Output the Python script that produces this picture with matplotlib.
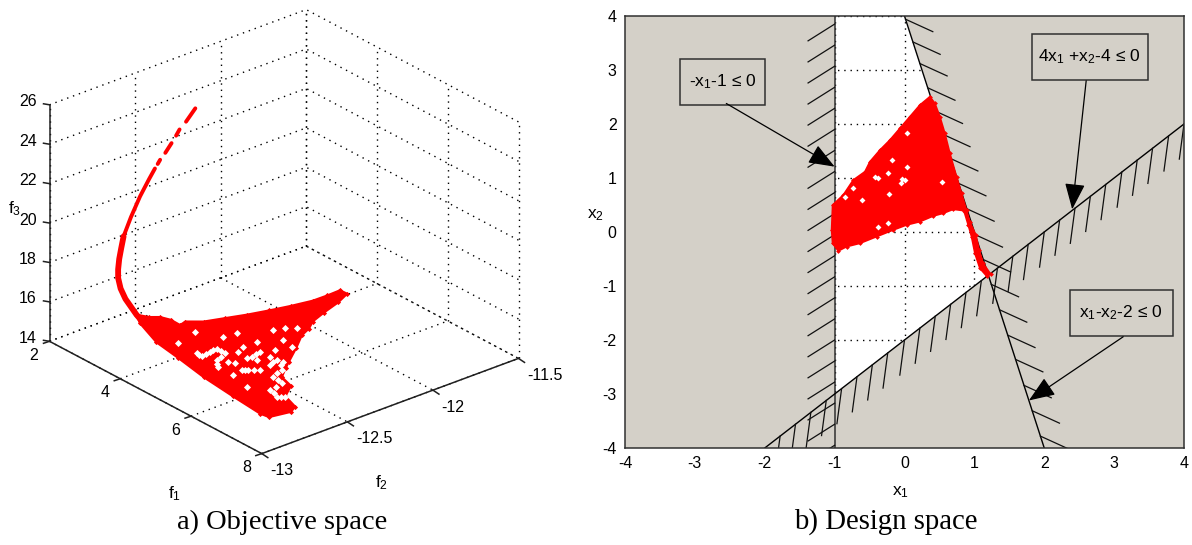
import numpy as np
import matplotlib.pyplot as plt

plt.rcParams['font.family'] = ['Liberation Sans', 'DejaVu Sans']
plt.rcParams['mathtext.default'] = 'regular'
plt.rcParams['axes.unicode_minus'] = False

#Objective space data
curve_f1 = [3.50, 3.44, np.nan, 3.33, 3.28, np.nan, 3.22, 3.15, np.nan, 3.09, 3.07, np.nan, 3.05, 3.016, 2.837, 2.763, 2.662]
curve_f2 = [-12.458, -12.50, np.nan, -12.515, -12.525, np.nan, -12.539, -12.561, np.nan, -12.579, -12.589, np.nan, -12.601, -12.628, -12.644, -12.682, -12.704]
curve_f3 = [25.5, 24.9, np.nan, 24.45, 24.12, np.nan, 23.73, 23.24, np.nan, 22.89, 22.69, np.nan, 22.48, 22.0, 21.0, 20.0, 19.0]
tail_f1 = [2.662, 2.705, 2.703, 2.769, 2.794, 2.936, 3.102, 3.411, 3.706]
tail_f2 = [-12.704, -12.727, -12.738, -12.758, -12.763, -12.778, -12.784, -12.784, -12.750]
tail_f3 = [19.0, 18.5, 18.0, 17.6, 17.2, 16.85, 16.5, 16.0, 15.2]

cloud_f1 = [2.915, 3.140, 3.267, 3.481, 3.751, 3.705, 3.917, 4.062, 4.207, 4.330, 4.442, 4.533, 4.538, 4.523,
            4.717, 4.884, 5.042, 5.188, 5.364, 5.497, 5.816, 6.168, 6.344, 6.574, 6.953, 7.217, 7.659, 7.772,
            7.681, 7.466, 6.603, 5.664, 4.767, 4.021, 3.230]
cloud_f2 = [-12.682, -12.654, -12.616, -12.597, -12.599, -12.558, -12.496, -12.398, -12.301, -12.199, -12.094,
            -11.986, -11.902, -11.824, -11.822, -11.909, -12.027, -12.121, -12.179, -12.249, -12.346, -12.462,
            -12.519, -12.588, -12.613, -12.700, -12.734, -12.783, -12.892, -12.900, -12.881, -12.857, -12.820,
            -12.793, -12.726]
cloud_f3 = 15.2
gap_f1 = [4.835, 4.977, 4.938, 4.932, 5.165, 5.277, 5.527, 5.466, 5.596, 5.268, 5.169, 5.574, 5.580, 5.520,
          5.168, 5.743, 5.883, 5.960, 6.096, 6.056, 5.976, 6.106, 5.794, 5.643, 5.426, 5.732, 5.215, 5.079,
          4.995, 4.673, 4.622, 4.307, 4.135, 6.349, 6.461, 6.767, 6.841, 7.128, 7.225, 6.464, 5.942,
          4.906, 4.958, 4.935, 5.05, 5.22, 5.40, 5.548, 5.92, 6.03, 6.016, 6.20, 6.40, 6.61, 6.80, 6.98, 7.18]
gap_f2 = [-12.726, -12.726, -12.670, -12.629, -12.629, -12.701, -12.743, -12.672, -12.660, -12.572, -12.523,
          -12.587, -12.559, -12.498, -12.444, -12.563, -12.680, -12.657, -12.617, -12.550, -12.495, -12.483,
          -12.496, -12.436, -12.342, -12.357, -12.220, -12.260, -12.311, -12.459, -12.526, -12.724, -12.591,
          -12.543, -12.614, -12.629, -12.713, -12.733, -12.704, -12.771, -12.741,
          -12.726, -12.698, -12.650, -12.629, -12.665, -12.722, -12.528, -12.668, -12.637, -12.522, -12.515,
          -12.58, -12.62, -12.67, -12.72, -12.72]

f1_ticks = [2, 4, 6, 8]
f2_ticks = [-13, -12.5, -12, -11.5]
f2_labels = ['-13', '-12.5', '-12', '-11.5']
f3_ticks = [14, 16, 18, 20, 22, 24, 26]

#Design space data
front_x1 = [0.3635, 0.4350, 0.5065, 0.5781, 0.6496, 0.7450, 0.8165, 0.8881, 0.9358, 1.0216, 1.0693, 1.1265, 1.2314,
            1.1742, 1.0788, 1.0073, 0.9596, 0.9119, 0.8499, 0.6973, 0.5542, 0.4111, 0.2204, 0.0296, -0.1611, -0.3996,
            -0.6380, -0.8288, -0.9480, -1.029, -1.0434, -1.029, -0.8765, -0.7334, -0.5665, -0.4950, -0.3519, -0.2088,
            -0.0658, 0.0773, 0.2204]
front_x2 = [2.506, 2.383, 2.136, 1.827, 1.457, 1.025, 0.716, 0.407, 0.191, -0.056, -0.333, -0.580, -0.778,
            -0.815, -0.673, -0.395, -0.087, 0.130, 0.395, 0.420, 0.346, 0.296, 0.191, 0.130, 0.037, -0.086,
            -0.210, -0.272, -0.352, -0.210, 0.037, 0.500, 0.685, 0.963, 1.117, 1.302, 1.518, 1.704,
            1.920, 2.136, 2.352]
hole_x1 = [-0.3757, -0.4234, -0.0419, 0.0058, -0.0562, 0.0392, -0.1850, -0.2327, -0.7334, -0.8526, -0.6142, -0.2327,
           -0.3757, 0.5304, 0.0392, -0.2231]
hole_x2 = [0.994, 1.012, 0.975, 0.963, 0.901, 1.198, 1.333, 1.086, 0.809, 0.654, 0.592, 0.160, 0.099, 0.932, 1.827, 0.704]

#Where the hatch strokes leave each constraint line
hatch_left_x2 = [3.85, 3.46, 3.07, 2.68, 2.29, 1.90, 1.51, 1.12, 0.73, 0.34, -0.05, -0.44, -0.83, -1.22, -1.61, -2.0,
                 -2.39, -2.78, -3.17, -3.56, -3.95]
hatch_right_x2 = [3.94, 3.52, 3.12, 2.67, 2.24, 1.81, 1.36, 0.90, 0.43, -0.05, -0.51, -0.97, -1.44, -1.91, -2.36, -2.84,
                  -3.31, -3.78]
hatch_low_x1 = [4.0, 3.78, 3.55, 3.33, 3.11, 2.88, 2.66, 2.44, 2.22, 2.0, 1.77, 1.55, 1.33, 1.10, 0.88, 0.66, 0.44,
                0.22, 0.0, -0.24, -0.46, -0.68, -0.90, -1.12, -1.34, -1.56, -1.78]


#Oblique view of the 3D box, gives picture pixels
def project(f1, f2, f3):
    a = (np.asarray(f1, dtype=float) - 2) / 6
    b = (np.asarray(f2, dtype=float) + 13) / 1.5
    c = (np.asarray(f3, dtype=float) - 14) / 12
    return 49.5 + 212.3 * a + 256.7 * b, 341.3 + 112.3 * a - 95.2 * b - 236.5 * c


fig = plt.figure(figsize=(11.92, 5.45), dpi=100)

#Left panel
ax = fig.add_axes([0, 0, 1, 1])
ax.set_xlim(0, 1192)
ax.set_ylim(545, 0)
ax.axis('off')


def line3d(f1, f2, f3, **kw):
    x, y = project(f1, f2, f3)
    ax.plot(x, y, **kw)


grid_style = dict(color='k', linestyle=(0, (1, 3.5)), linewidth=1.0, zorder=1)
for t in f3_ticks:
    line3d([2, 2, 8], [-13, -11.5, -11.5], [t, t, t], **grid_style)
for t in f1_ticks:
    line3d([t, t], [-13, -11.5], [14, 14], **grid_style)
    line3d([t, t], [-11.5, -11.5], [14, 26], **grid_style)
for t in f2_ticks:
    line3d([2, 8], [t, t], [14, 14], **grid_style)
    line3d([2, 2], [t, t], [14, 26], **grid_style)

#Front edges and ticks of the box
edge = dict(color='#202020', linewidth=1.1, zorder=2)
line3d([2, 2], [-13, -13], [14, 26], **edge)
line3d([2, 8, 8], [-13, -13, -11.5], [14, 14, 14], **edge)
for t in f3_ticks:
    x, y = project(2, -13, t)
    ax.plot([x - 6, x], [y - 1, y], **edge)
    ax.text(37, y - 3, str(t), ha='right', va='center', fontsize=11.5)
for t in f1_ticks:
    x, y = project(t, -13, 14)
    ax.plot([x - 6, x], [y + 2, y], **edge)
    ax.text(x - 15.5, y + 14, str(t), ha='center', va='center', fontsize=11.5)
for t, lab in zip(f2_ticks, f2_labels):
    x, y = project(8, t, 14)
    ax.plot([x, x + 6], [y, y + 4], **edge)
    ax.text(x + 8.5, y + 17, lab, ha='left', va='center', fontsize=11.5)

ax.text(174.5, 494, 'f$_1$', ha='center', va='center', fontsize=12.5)
ax.text(382, 483, 'f$_2$', ha='center', va='center', fontsize=12.5)
ax.text(14.5, 208.5, 'f$_3$', ha='center', va='center', fontsize=12.5)

#Red points of the objective space
line3d(curve_f1, curve_f2, curve_f3, color='red', linewidth=2.8, zorder=3, solid_capstyle='round')
line3d(tail_f1, tail_f2, tail_f3, color='red', linewidth=4.2, zorder=3, solid_capstyle='round')
cx, cy = project(cloud_f1, cloud_f2, cloud_f3)
ax.fill(cx, cy, facecolor='red', edgecolor='red', linewidth=1.5, zorder=3)
ax.scatter(cx, cy, s=7, marker='D', color='red', linewidths=0, zorder=3)
gx, gy = project(gap_f1, gap_f2, cloud_f3)
ax.scatter(gx, gy, s=13, marker='D', color='white', linewidths=0, zorder=4)

ax.text(282, 522, 'a) Objective space', ha='center', va='center', fontsize=20.5, family='Liberation Serif')
ax.text(885.5, 522, 'b) Design space', ha='center', va='center', fontsize=20.7, family='Liberation Serif')

#Right panel
ax2 = fig.add_axes([625 / 1192, (545 - 448) / 545, 559 / 1192, 432 / 545])
ax2.set_xlim(-4, 4)
ax2.set_ylim(-4, 4)
ax2.set_facecolor('white')
ax2.grid(True, color='k', linestyle=(0, (1, 3.5)), linewidth=1.0, zorder=1)
ax2.set_axisbelow(True)

#Gray out the three infeasible half planes
gray = '#d4d0c8'
ax2.fill([-4, -1, -1, -4], [-4, -4, 4, 4], color=gray, linewidth=0, zorder=1.5)
ax2.fill([0, 4, 4, 2], [4, 4, -4, -4], color=gray, linewidth=0, zorder=1.5)
ax2.fill([-2, 4, 4], [-4, 2, -4], color=gray, linewidth=0, zorder=1.5)

#Constraint lines
ax2.plot([-1, -1], [-4, 4], color='#303030', linewidth=1.1, zorder=2)
ax2.plot([0, 2], [4, -4], color='k', linewidth=1.0, zorder=2)
ax2.plot([-2, 4], [-4, 2], color='k', linewidth=1.0, zorder=2)

#Hatch strokes
hatch = dict(color='#101010', linewidth=0.9, zorder=2)
for y in hatch_left_x2:
    ax2.plot([-1, -1.38], [y, y - 0.31], **hatch)
for y in hatch_right_x2:
    x = (4 - y) / 4
    ax2.plot([x, x + 0.39], [y, y - 0.23], **hatch)
for x in hatch_low_x1:
    ax2.plot([x, x - 0.067], [x - 2, x - 2.65], **hatch)

ax2.fill(front_x1, front_x2, facecolor='red', edgecolor='red', linewidth=1.2, zorder=3)
ax2.scatter(front_x1, front_x2, s=6, marker='D', color='red', linewidths=0, zorder=3)
ax2.scatter(hole_x1, hole_x2, s=9, marker='D', color='white', linewidths=0, zorder=4)

#Boxed constraint labels with their arrows
boxes = [(-3.22, 2.35, 1.23, 0.85, -2.6, 2.78, '-x$_1$-1 ≤ 0', (-2.55, 2.38), (-1.0, 1.21)),
         (1.82, 2.81, 1.67, 0.85, 2.65, 3.24, '4x$_1$ +x$_2$-4 ≤ 0', (2.60, 2.80), (2.40, 0.42)),
         (2.37, -1.93, 1.47, 0.86, 3.1, -1.5, 'x$_1$-x$_2$-2 ≤ 0', (3.13, -1.94), (1.78, -3.12))]
for bx, by, bw, bh, tx, ty, lab, start, end in boxes:
    ax2.add_patch(plt.Rectangle((bx, by), bw, bh, facecolor=gray, edgecolor='#303030', linewidth=1.1, zorder=5))
    ax2.text(tx, ty, lab, ha='center', va='center', fontsize=12.5, zorder=6)
    ax2.annotate('', xy=end, xytext=start, zorder=6,
                 arrowprops=dict(arrowstyle='-|>,head_length=0.9,head_width=0.35', color='k', linewidth=0.9,
                                 shrinkA=0, shrinkB=0, mutation_scale=18))

ax2.set_xticks(range(-4, 5))
ax2.set_yticks(range(-4, 5))
ax2.tick_params(length=0, labelsize=11.5, pad=6)
for s in ax2.spines.values():
    s.set_color('#303030')
    s.set_linewidth(1.1)
    s.set_zorder(7)
ax.text(901, 492, 'x$_1$', ha='center', va='center', fontsize=12.5)
ax.text(595.6, 215, 'x$_2$', ha='center', va='center', fontsize=12.5)

fig.savefig('out.png', dpi=100)
